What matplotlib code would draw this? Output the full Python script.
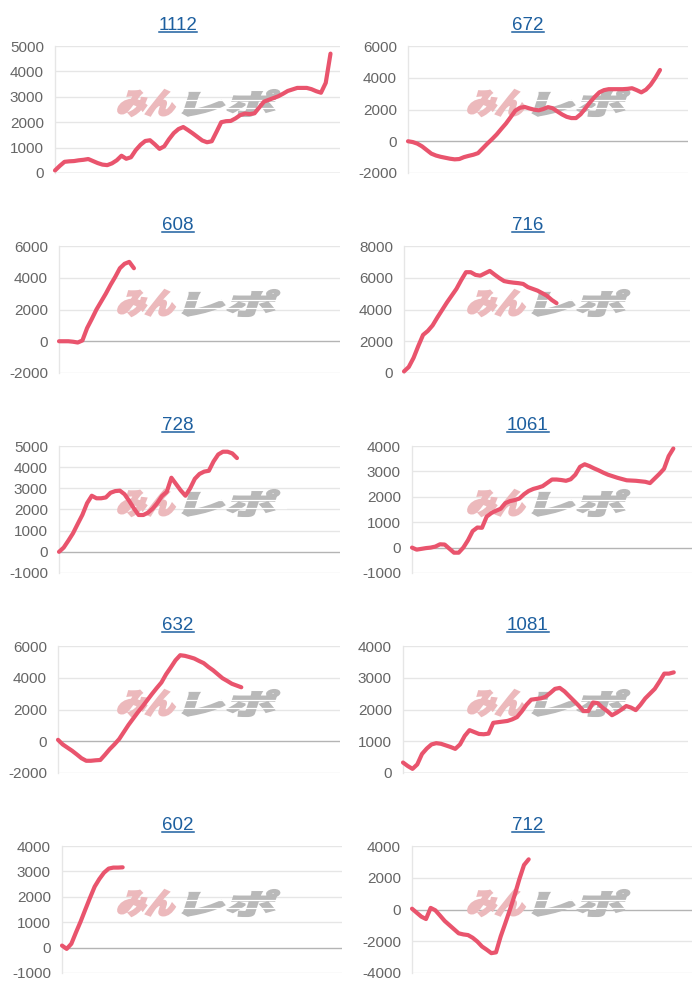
import matplotlib
matplotlib.use("Agg")
import matplotlib.pyplot as plt
from matplotlib.textpath import TextPath
from matplotlib.font_manager import FontProperties
from matplotlib.patches import PathPatch
from matplotlib.transforms import Affine2D, IdentityTransform
from matplotlib.lines import Line2D

plt.rcParams["font.family"] = ["Liberation Sans", "DejaVu Sans"]

# ---------------- data ----------------
titles = ["1112", "672", "608", "716", "728", "1061", "632", "1081", "602", "712"]

s1112 = [100, 280, 440, 460, 470, 500, 520, 550, 470, 390, 330, 310, 380, 500, 680,
         560, 620, 900, 1110, 1260, 1290, 1130, 950, 1050, 1330, 1570, 1730, 1810, 1690,
         1560, 1420, 1280, 1210, 1250, 1620, 2000, 2040, 2050, 2150, 2280, 2340, 2320,
         2350, 2580, 2810, 2880, 2950, 3020, 3120, 3230, 3290, 3350, 3350, 3350, 3300,
         3220, 3160, 3550, 4700]
s672 = [0, -50, -150, -320, -550, -780, -900, -980, -1040, -1100, -1140, -1120, -1000,
        -920, -850, -750, -450, -150, 130, 430, 780, 1120, 1520, 1930, 2110, 2160, 2070,
        1990, 1950, 2030, 2150, 2080, 1880, 1690, 1540, 1460, 1460, 1700, 2070, 2450,
        2790, 3080, 3220, 3280, 3280, 3280, 3280, 3300, 3340, 3220, 3080, 3250, 3560,
        3990, 4490]
s608 = [0, 0, 0, -30, -80, 50, 830, 1400, 2000, 2500, 3000, 3550, 4050, 4600, 4880,
        5000, 4600]
s716 = [100, 380, 950, 1700, 2400, 2650, 3000, 3500, 3970, 4440, 4870, 5300, 5850, 6350,
        6350, 6180, 6130, 6280, 6430, 6200, 5980, 5790, 5730, 5690, 5660, 5610, 5410,
        5300, 5190, 5030, 4860, 4600, 4400]
s728 = [0, 200, 530, 880, 1320, 1750, 2300, 2650, 2530, 2530, 2570, 2790, 2870, 2890,
        2720, 2400, 2050, 1740, 1740, 1850, 2040, 2310, 2640, 2830, 3500, 3200, 2900,
        2650, 3000, 3450, 3680, 3790, 3830, 4270, 4600, 4730, 4730, 4650, 4430]
s1061 = [0, -80, -50, -20, 0, 40, 130, 120, -40, -200, -200, 0, 290, 650, 790, 780, 1220,
         1360, 1450, 1530, 1750, 1830, 1870, 1930, 2100, 2230, 2310, 2360, 2420, 2550,
         2680, 2680, 2660, 2630, 2690, 2870, 3180, 3280, 3210, 3120, 3040, 2950, 2870,
         2810, 2750, 2700, 2650, 2640, 2630, 2610, 2590, 2540, 2720, 2900, 3100, 3600, 3900]
s632 = [90, -200, -400, -600, -830, -1070, -1230, -1230, -1200, -1180, -850, -500, -200,
        130, 580, 1030, 1430, 1830, 2200, 2590, 2980, 3350, 3700, 4220, 4650, 5100, 5420,
        5380, 5300, 5210, 5060, 4920, 4680, 4470, 4220, 3970, 3800, 3620, 3510, 3400]
s1081 = [330, 220, 130, 270, 600, 770, 900, 940, 920, 870, 820, 760, 900, 1170, 1350, 1290,
         1230, 1220, 1240, 1580, 1600, 1620, 1640, 1690, 1760, 1940, 2150, 2310, 2330, 2350,
         2400, 2520, 2650, 2680, 2570, 2420, 2270, 2120, 1950, 1950, 2220, 2200, 2060, 1950,
         1820, 1900, 2000, 2110, 2060, 1980, 2150, 2350, 2500, 2650, 2880, 3130, 3130, 3170]
s602 = [80, -50, 150, 600, 1030, 1500, 1960, 2400, 2700, 2950, 3110, 3150, 3150, 3160]
s712 = [50, -200, -450, -600, 100, -50, -380, -720, -980, -1240, -1500, -1570, -1610, -1780,
        -2020, -2330, -2530, -2750, -2700, -1700, -860, 0, 910, 1910, 2800, 3160]

series = [s1112, s672, s608, s716, s728, s1061, s632, s1081, s602, s712]
y_min = [0, -2000, -2000, 0, -1000, -1000, -2000, 0, -1000, -4000]
y_max = [5000, 6000, 6000, 8000, 5000, 4000, 6000, 4000, 4000, 4000]
y_step = [1000, 2000, 2000, 2000, 1000, 1000, 2000, 1000, 1000, 2000]
x_slots = 60

# ---------------- style / layout ----------------
W, H = 700, 1000
LINE_COLOR = "#e9546d"
TITLE_COLOR = "#1d5f9f"
GRID_COLOR = "#e6e6e6"
ZERO_COLOR = "#b4b4b4"
TICK_COLOR = "#666666"
PINK = "#ecb9bc"
GRAY = "#b9b9b9"

lefts = [55, 408, 59, 404, 59, 412, 58, 403, 62, 412]
rights = [340, 688, 340, 690, 340, 692, 340, 688, 342, 692]

fig = plt.figure(figsize=(W / 100, H / 100), dpi=100)
fig.patch.set_facecolor("white")

fp = FontProperties(family="Noto Sans CJK JP", weight="black")


def fitted_patch(text, box, color, z):
    x0, x1, y0, y1 = box  # pixel box, y measured from top
    tp = TextPath((0, 0), text, size=100, prop=fp)
    bb = tp.get_extents()
    sx = (x1 - x0) / bb.width
    sy = (y1 - y0) / bb.height
    tr = (Affine2D().translate(-bb.x0, -bb.y0).scale(sx, sy)
          .skew_deg(18, 0).translate(x0 - 4, H - y1))
    return PathPatch(tr.transform_path(tp), facecolor=color, edgecolor=color, lw=1.5,
                     joinstyle="miter", transform=IdentityTransform(), zorder=z,
                     clip_on=False)


title_texts = []
for i in range(10):
    r, c = divmod(i, 2)
    py, px = 200 * r, 350 * c
    top, bot = py + 46, py + 173
    ax = fig.add_axes([lefts[i] / W, 1 - bot / H, (rights[i] - lefts[i]) / W, (bot - top) / H])
    ax.set_facecolor("none")
    data = series[i]
    ax.plot(range(len(data)), data, color=LINE_COLOR, lw=3.0, zorder=3,
            solid_joinstyle="round", solid_capstyle="round", clip_on=False)
    ax.set_xlim(0, x_slots)
    ax.set_ylim(y_min[i], y_max[i])
    ticks = list(range(y_min[i], y_max[i] + 1, y_step[i]))
    ax.set_yticks(ticks)
    ax.set_yticklabels([str(t) for t in ticks])
    ax.set_xticks([])
    for t in ticks:
        ax.axhline(t, color=ZERO_COLOR if t == 0 else GRID_COLOR, lw=1.0, zorder=1)
    for side in ["top", "right", "bottom"]:
        ax.spines[side].set_visible(False)
    ax.spines["left"].set_color(GRID_COLOR)
    ax.spines["left"].set_linewidth(1.0)
    ax.tick_params(axis="y", length=0, pad=8, labelsize=11, labelcolor=TICK_COLOR)

    # watermark
    wx = px + 118
    ax.add_artist(fitted_patch("みん", (wx + 2, wx + 58, py + 90, py + 116), PINK, 2))
    ax.add_artist(fitted_patch("レポ", (wx + 68, wx + 158, py + 90, py + 116), GRAY, 2))
    for yy in (py + 100, py + 108):
        ax.add_artist(Line2D([wx + 62, wx + 168], [H - yy, H - yy], color="white", lw=0.9,
                             transform=IdentityTransform(), zorder=2.5, clip_on=False))

    tx = px + 178
    t = fig.text(tx / W, 1 - (py + 29.5) / H, titles[i], ha="center", va="baseline",
                 fontsize=13.5, color=TITLE_COLOR)
    title_texts.append((t, py))

fig.canvas.draw()
renderer = fig.canvas.get_renderer()
for t, py in title_texts:
    bb = t.get_window_extent(renderer)
    yy = H - (py + 32)
    fig.add_artist(Line2D([bb.x0, bb.x1], [yy, yy], color=TITLE_COLOR, lw=1.1,
                          transform=IdentityTransform()))

fig.savefig("out.png", dpi=100, facecolor="white")
